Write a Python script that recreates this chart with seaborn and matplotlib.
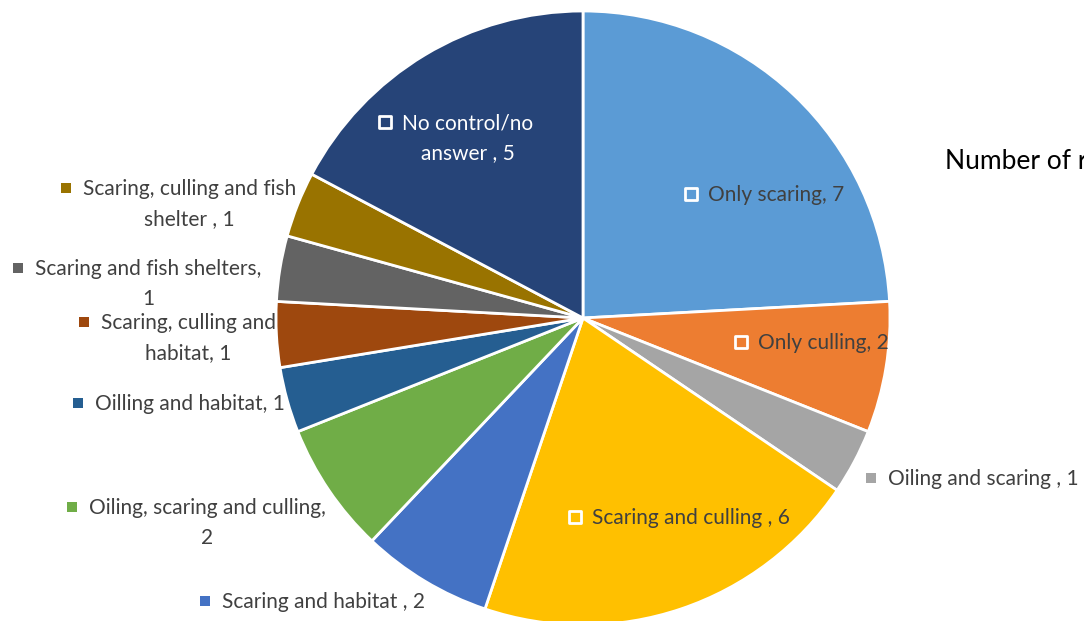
import matplotlib
matplotlib.use("Agg")
import matplotlib.pyplot as plt
import seaborn as sns

sns.set_theme(style="white")
plt.rcParams['font.family'] = ['Lato', 'DejaVu Sans']

# data, clockwise from 12 o'clock
categories = [
    "Only scaring", "Only culling", "Oiling and scaring ", "Scaring and culling ",
    "Scaring and habitat ", "Oiling, scaring and culling", "Oilling and habitat",
    "Scaring, culling and habitat", "Scaring and fish shelters",
    "Scaring, culling and fish shelter ", "No control/no answer ",
]
counts = [7, 2, 1, 6, 2, 2, 1, 1, 1, 1, 5]
label_text = [
    "Only scaring, 7", "Only culling, 2", "Oiling and scaring , 1",
    "Scaring and culling , 6", "Scaring and habitat , 2",
    "Oiling, scaring and culling,\n2", "Oilling and habitat, 1",
    "Scaring, culling and\nhabitat, 1", "Scaring and fish shelters,\n1",
    "Scaring, culling and fish\nshelter , 1", "No control/no\nanswer , 5",
]
colors = ["#5B9BD5", "#ED7D31", "#A5A5A5", "#FFC000", "#4472C4", "#70AD47",
          "#255E91", "#9E480E", "#636363", "#997300", "#264478"]
title = "Number of respondents"

# layout (pixel centres of label markers, and whether label sits inside the slice)
marker_xy = [(691, 194), (741, 342), (871, 478), (575, 517), (205, 601), (72, 507),
             (78, 403), (84, 322), (18, 268), (66, 188), (385, 122)]
inside = [True, True, False, True, False, False, False, False, False, False, True]

W, H = 1084, 621
fig = plt.figure(figsize=(W / 100, H / 100), dpi=100)
cx, cy, r = 583, 318, 307
ax = fig.add_axes([(cx - r) / W, (H - cy - r) / H, 2 * r / W, 2 * r / H])
ax.pie(counts, colors=colors, startangle=90, counterclock=False,
       wedgeprops=dict(edgecolor="white", linewidth=2))
ax.set_xlim(-1, 1)
ax.set_ylim(-1, 1)
ax.set_aspect("auto")
ax.axis("off")

ov = fig.add_axes([0, 0, 1, 1])
ov.set_xlim(0, W)
ov.set_ylim(H, 0)
ov.axis("off")

fs = 15
for txt, (mx, my), col, ins in zip(label_text, marker_xy, colors, inside):
    tcol = "#404040"
    if ins:
        ov.scatter([mx], [my], marker="s", s=80, facecolor=col, edgecolor="white", linewidth=2, zorder=3)
        if col == "#264478":
            tcol = "white"
    else:
        ov.scatter([mx], [my], marker="s", s=60, facecolor=col, edgecolor="none", zorder=3)
    ov.text(mx + 17, my - 9, txt, ha="left", va="top", multialignment="center",
            fontsize=fs, color=tcol, linespacing=1.6)

# chart title, cut off at the right edge as in the original
ov.text(945, 161, title, ha="left", va="center", fontsize=19, color="black")

fig.savefig("out.png", dpi=100)
